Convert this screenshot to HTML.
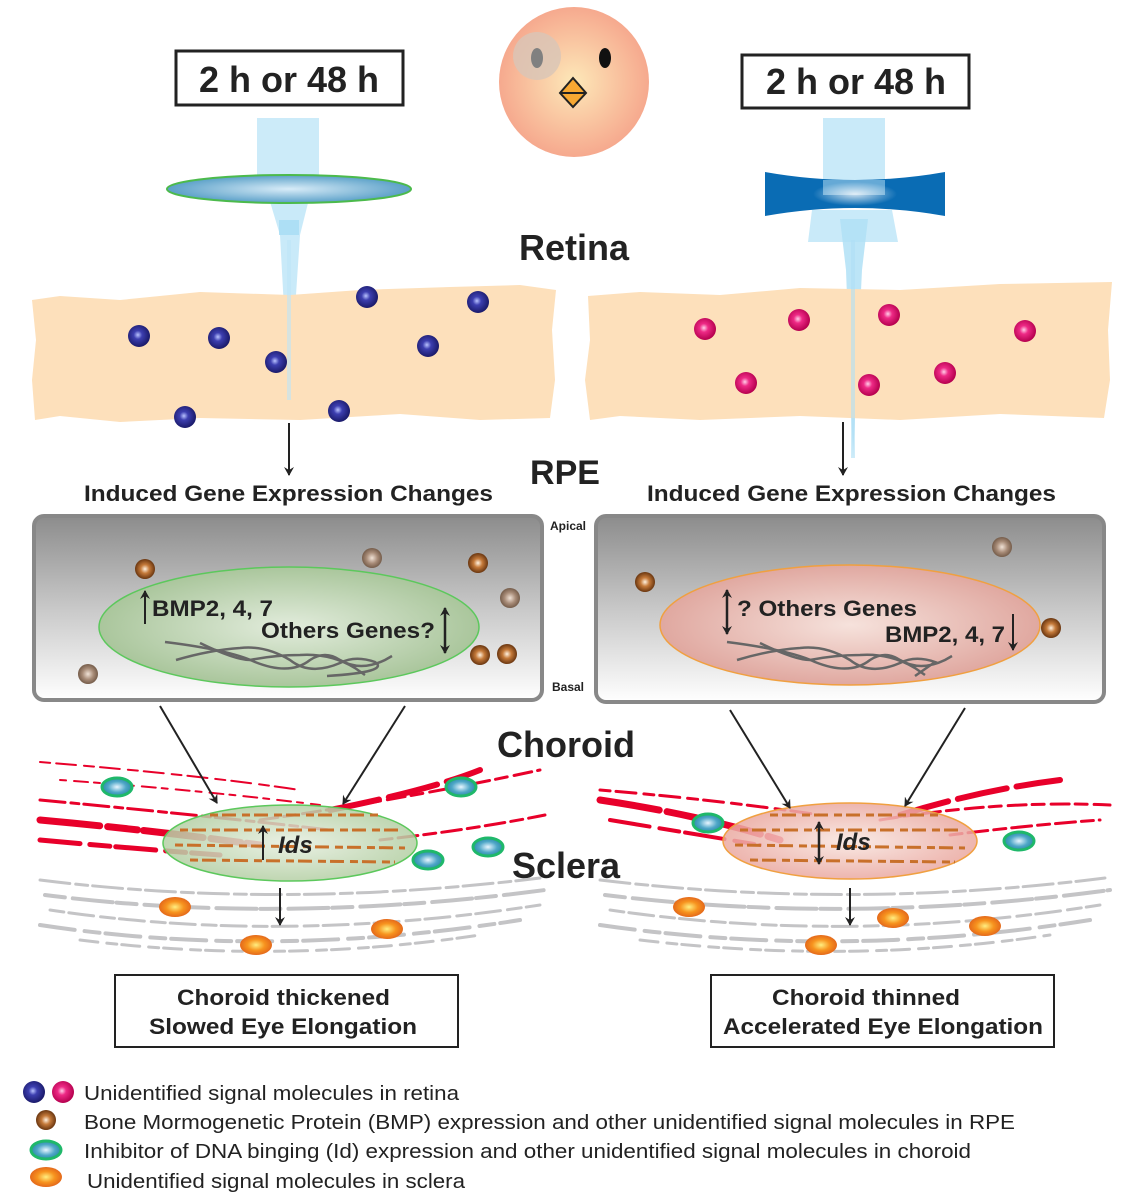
<!DOCTYPE html>
<html><head><meta charset="utf-8"><style>
html,body{margin:0;padding:0;background:#fff;}
svg{display:block;font-family:"Liberation Sans",sans-serif;}
</style></head><body>
<svg width="1141" height="1204" viewBox="0 0 1141 1204" xmlns="http://www.w3.org/2000/svg">
<defs>
<radialGradient id="chick" cx="0.5" cy="0.5" r="0.5"><stop offset="0" stop-color="#fde8b8"/><stop offset="1" stop-color="#f6a98e"/></radialGradient>
<radialGradient id="blue" cx="0.45" cy="0.45" r="0.55"><stop offset="0" stop-color="#b9c3ff"/><stop offset="0.35" stop-color="#3d3fb0"/><stop offset="1" stop-color="#1a1a6a"/></radialGradient>
<radialGradient id="pink" cx="0.45" cy="0.45" r="0.55"><stop offset="0" stop-color="#ffd0e8"/><stop offset="0.35" stop-color="#ee2a86"/><stop offset="1" stop-color="#b5004e"/></radialGradient>
<radialGradient id="brown" cx="0.5" cy="0.5" r="0.55"><stop offset="0" stop-color="#fff2e0"/><stop offset="0.4" stop-color="#c57a3a"/><stop offset="1" stop-color="#5a2a08"/></radialGradient>
<radialGradient id="brown2" cx="0.5" cy="0.5" r="0.55"><stop offset="0" stop-color="#f0e2d6"/><stop offset="0.5" stop-color="#a88c78"/><stop offset="1" stop-color="#6a5240"/></radialGradient>
<radialGradient id="teal" cx="0.5" cy="0.5" r="0.5"><stop offset="0" stop-color="#e8f6ff"/><stop offset="0.6" stop-color="#4fa7c8"/><stop offset="1" stop-color="#2d8aa8"/></radialGradient>
<radialGradient id="orange" cx="0.5" cy="0.5" r="0.55"><stop offset="0" stop-color="#ffee80"/><stop offset="0.5" stop-color="#f7931e"/><stop offset="1" stop-color="#e0601a"/></radialGradient>
<linearGradient id="rpe" x1="0" y1="0" x2="0" y2="1"><stop offset="0" stop-color="#8c8c8c"/><stop offset="0.5" stop-color="#c8c8c8"/><stop offset="1" stop-color="#ffffff"/></linearGradient>
<radialGradient id="gnuc" cx="0.5" cy="0.5" r="0.5"><stop offset="0" stop-color="#e2ecdc"/><stop offset="1" stop-color="#aac69c"/></radialGradient>
<radialGradient id="pnuc" cx="0.5" cy="0.5" r="0.5"><stop offset="0" stop-color="#f6e2dc"/><stop offset="1" stop-color="#e0a8a0"/></radialGradient>
<radialGradient id="gch" cx="0.5" cy="0.5" r="0.5"><stop offset="0" stop-color="#e6eedf" stop-opacity="0.85"/><stop offset="1" stop-color="#b4cfa4" stop-opacity="0.85"/></radialGradient>
<radialGradient id="pch" cx="0.5" cy="0.5" r="0.5"><stop offset="0" stop-color="#f8e6e0" stop-opacity="0.85"/><stop offset="1" stop-color="#eaa8a0" stop-opacity="0.85"/></radialGradient>
<radialGradient id="lens" cx="0.5" cy="0.5" r="0.5"><stop offset="0" stop-color="#d8ecf8"/><stop offset="1" stop-color="#5aa0c8"/></radialGradient>
<radialGradient id="glow" cx="0.5" cy="0.5" r="0.5"><stop offset="0" stop-color="#ffffff"/><stop offset="1" stop-color="#ffffff" stop-opacity="0"/></radialGradient>
<marker id="ah" markerWidth="10" markerHeight="10" refX="8" refY="5" orient="auto" markerUnits="userSpaceOnUse"><path d="M0,0 L9,5 L0,10 L3,5 z" fill="#222"/></marker>
<marker id="ahs" markerWidth="10" markerHeight="10" refX="8" refY="5" orient="auto-start-reverse" markerUnits="userSpaceOnUse"><path d="M0,0 L9,5 L0,10 L3,5 z" fill="#222"/></marker>
</defs>

<!-- time boxes -->
<rect x="176" y="51" width="227" height="54" fill="#fff" stroke="#222" stroke-width="3"/>
<text x="289" y="92" text-anchor="middle" font-size="36" font-weight="bold" fill="#222">2 h or 48 h</text>
<rect x="742" y="55" width="227" height="53" fill="#fff" stroke="#222" stroke-width="3"/>
<text x="856" y="94" text-anchor="middle" font-size="36" font-weight="bold" fill="#222">2 h or 48 h</text>

<!-- chick -->
<circle cx="574" cy="82" r="75" fill="url(#chick)"/>
<circle cx="537" cy="56" r="24" fill="#d8c6b8" opacity="0.8"/>
<ellipse cx="537" cy="58" rx="6" ry="10" fill="#808080"/>
<ellipse cx="605" cy="58" rx="6" ry="10" fill="#111"/>
<path d="M573,78 L586,93 L573,107 L560,93 Z" fill="#f8a832" stroke="#222" stroke-width="2"/>
<line x1="561" y1="93" x2="585" y2="93" stroke="#222" stroke-width="2"/>

<!-- left lens & beam -->
<rect x="257" y="118" width="62" height="62" fill="#bfe6f8" opacity="0.8"/>
<path d="M268,195 L310,195 L300,235 L289,400 L280,235 Z" fill="#bfe6f8" opacity="0.85"/>
<rect x="279" y="220" width="20" height="15" fill="#a6dcf4" opacity="0.8"/>
<ellipse cx="289" cy="189" rx="122" ry="14" fill="url(#lens)" stroke="#4cba4c" stroke-width="2"/>

<!-- right lens & beam -->
<rect x="823" y="118" width="62" height="78" fill="#bfe6f8" opacity="0.85"/>
<path d="M812,210 L892,210 L898,242 L808,242 Z" fill="#bfe6f8" opacity="0.85"/>
<path d="M765,172 Q855,188 945,172 L945,216 Q855,200 765,216 Z" fill="#0a6cb4"/>
<rect x="823" y="180" width="62" height="15" fill="#bfe6f8" opacity="0.5"/>
<ellipse cx="855" cy="194" rx="42" ry="12" fill="url(#glow)" opacity="0.8"/>
<path d="M840,219 L868,219 L862,270 L853,458 L846,270 Z" fill="#b0e0f6" opacity="0.85"/>

<text x="574" y="260" text-anchor="middle" font-size="36" font-weight="bold" fill="#222">Retina</text>

<!-- retina bands -->
<path d="M32,300 L60,296 L120,300 L200,292 L290,295 L360,290 L450,287 L520,285 L556,290 L552,330 L555,380 L550,418 L480,420 L400,414 L300,420 L200,418 L120,422 L60,416 L35,420 L32,380 L36,340 Z" fill="#fde0bb"/>
<path d="M588,296 L640,292 L720,295 L800,288 L900,290 L1000,284 L1112,282 L1108,330 L1110,380 L1104,418 L1000,414 L900,420 L800,416 L700,420 L620,416 L590,420 L585,380 L590,340 Z" fill="#fde0bb"/>
<path d="M289,240 L289,400" stroke="#bfe6f8" stroke-width="4" opacity="0.6"/>
<path d="M853,240 L853,458" stroke="#b0e0f6" stroke-width="4" opacity="0.6"/>

<g>
<circle cx="139" cy="336" r="11" fill="url(#blue)"/><circle cx="219" cy="338" r="11" fill="url(#blue)"/>
<circle cx="276" cy="362" r="11" fill="url(#blue)"/><circle cx="367" cy="297" r="11" fill="url(#blue)"/>
<circle cx="478" cy="302" r="11" fill="url(#blue)"/><circle cx="428" cy="346" r="11" fill="url(#blue)"/>
<circle cx="185" cy="417" r="11" fill="url(#blue)"/><circle cx="339" cy="411" r="11" fill="url(#blue)"/>
<circle cx="705" cy="329" r="11" fill="url(#pink)"/><circle cx="799" cy="320" r="11" fill="url(#pink)"/>
<circle cx="889" cy="315" r="11" fill="url(#pink)"/><circle cx="1025" cy="331" r="11" fill="url(#pink)"/>
<circle cx="746" cy="383" r="11" fill="url(#pink)"/><circle cx="869" cy="385" r="11" fill="url(#pink)"/>
<circle cx="945" cy="373" r="11" fill="url(#pink)"/>
</g>

<line x1="289" y1="423" x2="289" y2="475" stroke="#222" stroke-width="2" marker-end="url(#ah)"/>
<line x1="843" y1="422" x2="843" y2="475" stroke="#222" stroke-width="2" marker-end="url(#ah)"/>

<text x="565" y="484" text-anchor="middle" font-size="34" font-weight="bold" fill="#222">RPE</text>
<text x="84" y="501" font-size="22" font-weight="bold" fill="#222" textLength="409" lengthAdjust="spacingAndGlyphs">Induced Gene Expression Changes</text>
<text x="647" y="501" font-size="22" font-weight="bold" fill="#222" textLength="409" lengthAdjust="spacingAndGlyphs">Induced Gene Expression Changes</text>

<!-- RPE boxes -->
<rect x="34" y="516" width="508" height="184" rx="10" fill="url(#rpe)" stroke="#888" stroke-width="4"/>
<rect x="596" y="516" width="508" height="186" rx="10" fill="url(#rpe)" stroke="#888" stroke-width="4"/>
<text x="568" y="530" text-anchor="middle" font-size="12" font-weight="bold" fill="#222">Apical</text>
<text x="568" y="691" text-anchor="middle" font-size="12" font-weight="bold" fill="#222">Basal</text>

<ellipse cx="289" cy="627" rx="190" ry="60" fill="url(#gnuc)" stroke="#5cc85c" stroke-width="1.5"/>
<ellipse cx="850" cy="625" rx="190" ry="60" fill="url(#pnuc)" stroke="#f0a040" stroke-width="1.5"/>

<!-- DNA -->
<g fill="none" stroke="#666" stroke-width="2.5">
<path d="M165,642 Q230,650 255,662 Q290,676 310,660 Q325,650 340,660 Q360,672 385,660 L392,656"/>
<path d="M176,660 Q210,650 240,648 Q265,645 290,660 Q310,676 340,663 Q355,655 375,662 Q390,672 327,676"/>
<path d="M200,643 Q235,660 250,660 Q275,655 300,655 Q330,653 355,668 L365,675"/>
<path d="M727,642 Q790,650 815,662 Q850,676 870,660 Q885,650 900,660 Q920,672 945,660 L952,656"/>
<path d="M737,660 Q770,650 800,648 Q825,645 850,660 Q870,676 900,663 Q915,655 935,662 L915,676"/>
<path d="M760,643 Q795,660 810,660 Q835,655 860,655 Q890,653 915,668 L925,675"/>
</g>

<text x="152" y="616" font-size="22" font-weight="bold" fill="#222" textLength="121" lengthAdjust="spacingAndGlyphs">BMP2, 4, 7</text>
<line x1="145" y1="624" x2="145" y2="591" stroke="#222" stroke-width="2" marker-end="url(#ah)"/>
<text x="261" y="638" font-size="22" font-weight="bold" fill="#222" textLength="174" lengthAdjust="spacingAndGlyphs">Others Genes?</text>
<line x1="445" y1="608" x2="445" y2="653" stroke="#222" stroke-width="2.5" marker-start="url(#ahs)" marker-end="url(#ahs)"/>

<text x="737" y="616" font-size="22" font-weight="bold" fill="#222" textLength="180" lengthAdjust="spacingAndGlyphs">? Others Genes</text>
<line x1="727" y1="590" x2="727" y2="634" stroke="#222" stroke-width="2.5" marker-start="url(#ahs)" marker-end="url(#ahs)"/>
<text x="885" y="642" font-size="22" font-weight="bold" fill="#222" textLength="120" lengthAdjust="spacingAndGlyphs">BMP2, 4, 7</text>
<line x1="1013" y1="614" x2="1013" y2="650" stroke="#222" stroke-width="2" marker-end="url(#ah)"/>

<g>
<circle cx="145" cy="569" r="10" fill="url(#brown)"/><circle cx="372" cy="558" r="10" fill="url(#brown2)"/>
<circle cx="478" cy="563" r="10" fill="url(#brown)"/><circle cx="510" cy="598" r="10" fill="url(#brown2)"/>
<circle cx="480" cy="655" r="10" fill="url(#brown)"/><circle cx="507" cy="654" r="10" fill="url(#brown)"/>
<circle cx="88" cy="674" r="10" fill="url(#brown2)"/>
<circle cx="645" cy="582" r="10" fill="url(#brown)"/><circle cx="1002" cy="547" r="10" fill="url(#brown2)"/>
<circle cx="1051" cy="628" r="10" fill="url(#brown)"/>
</g>

<text x="566" y="757" text-anchor="middle" font-size="36" font-weight="bold" fill="#222">Choroid</text>
<text x="566" y="878" text-anchor="middle" font-size="36" font-weight="bold" fill="#222">Sclera</text>

<!-- sclera gray streaks -->
<g stroke="#c4c4c6" fill="none" stroke-linecap="round">
<path d="M40,880 Q280,910 540,878" stroke-width="3" stroke-dasharray="30 6 12 5"/>
<path d="M45,895 Q280,925 545,890" stroke-width="4" stroke-dasharray="20 8 40 4"/>
<path d="M50,910 Q280,945 540,905" stroke-width="3" stroke-dasharray="14 5 25 7"/>
<path d="M40,925 Q270,960 520,920" stroke-width="4" stroke-dasharray="35 10 15 6"/>
<path d="M80,940 Q280,965 480,935" stroke-width="3" stroke-dasharray="18 9 10 5"/>
<path d="M600,880 Q850,910 1105,878" stroke-width="3" stroke-dasharray="30 6 12 5"/>
<path d="M605,895 Q850,925 1110,890" stroke-width="4" stroke-dasharray="20 8 40 4"/>
<path d="M610,910 Q850,945 1100,905" stroke-width="3" stroke-dasharray="14 5 25 7"/>
<path d="M600,925 Q840,960 1090,920" stroke-width="4" stroke-dasharray="35 10 15 6"/>
<path d="M640,940 Q850,965 1050,935" stroke-width="3" stroke-dasharray="18 9 10 5"/>
</g>
<!-- choroid red streaks -->
<g stroke="#e8002a" fill="none" stroke-linecap="round">
<path d="M40,762 Q200,775 300,790" stroke-width="2" stroke-dasharray="10 6 20 8"/>
<path d="M60,780 Q200,790 320,805" stroke-width="2" stroke-dasharray="6 8 14 6"/>
<path d="M40,800 Q200,815 330,830" stroke-width="3" stroke-dasharray="25 6 8 5"/>
<path d="M40,820 Q150,830 260,845" stroke-width="7" stroke-dasharray="60 8 30 6"/>
<path d="M40,840 Q150,850 220,855" stroke-width="5" stroke-dasharray="40 10 20 6"/>
<path d="M260,820 Q400,800 540,770" stroke-width="3" stroke-dasharray="18 6 12 7"/>
<path d="M330,810 Q430,790 480,770" stroke-width="6" stroke-dasharray="50 10"/>
<path d="M380,840 Q470,830 545,815" stroke-width="3" stroke-dasharray="12 6 20 6"/>
<path d="M600,790 Q720,800 820,815" stroke-width="3" stroke-dasharray="10 6 20 8"/>
<path d="M600,800 Q700,815 780,840" stroke-width="7" stroke-dasharray="60 8 30 6"/>
<path d="M610,820 Q700,835 760,845" stroke-width="4" stroke-dasharray="40 10 20 6"/>
<path d="M880,820 Q1000,800 1110,805" stroke-width="3" stroke-dasharray="18 6 12 7"/>
<path d="M900,815 Q980,790 1060,780" stroke-width="6" stroke-dasharray="50 10"/>
<path d="M950,835 Q1030,825 1100,820" stroke-width="3" stroke-dasharray="12 6 20 6"/>
</g>

<ellipse cx="290" cy="843" rx="127" ry="38" fill="url(#gch)" stroke="#5cc85c" stroke-width="1.5"/>
<ellipse cx="850" cy="841" rx="127" ry="38" fill="url(#pch)" stroke="#f0a040" stroke-width="1.5"/>
<g stroke="#c8702a" stroke-width="3" stroke-dasharray="8 4 14 6" fill="none">
<path d="M180,830 L400,830"/><path d="M175,845 L405,848"/><path d="M190,860 L395,862"/><path d="M210,815 L380,815"/>
<path d="M740,830 L960,830"/><path d="M735,845 L965,848"/><path d="M750,860 L955,862"/><path d="M770,815 L940,815"/>
</g>

<line x1="263" y1="860" x2="263" y2="826" stroke="#222" stroke-width="2" marker-end="url(#ah)"/>
<text x="278" y="853" font-size="24" font-weight="bold" font-style="italic" fill="#222">Ids</text>
<line x1="819" y1="822" x2="819" y2="864" stroke="#222" stroke-width="2.5" marker-start="url(#ahs)" marker-end="url(#ahs)"/>
<text x="836" y="850" font-size="24" font-weight="bold" font-style="italic" fill="#222">Ids</text>

<!-- arrows -->
<g stroke="#222" stroke-width="2" marker-end="url(#ah)">
<line x1="160" y1="706" x2="217" y2="803"/><line x1="405" y1="706" x2="343" y2="804"/>
<line x1="730" y1="710" x2="790" y2="808"/><line x1="965" y1="708" x2="905" y2="806"/>
<line x1="280" y1="888" x2="280" y2="925"/><line x1="850" y1="888" x2="850" y2="925"/>
</g>

<g stroke="#1fb86a" stroke-width="3">
<ellipse cx="117" cy="787" rx="15" ry="9" fill="url(#teal)"/><ellipse cx="461" cy="787" rx="15" ry="9" fill="url(#teal)"/>
<ellipse cx="428" cy="860" rx="15" ry="9" fill="url(#teal)"/><ellipse cx="488" cy="847" rx="15" ry="9" fill="url(#teal)"/>
<ellipse cx="708" cy="823" rx="15" ry="9" fill="url(#teal)"/><ellipse cx="1019" cy="841" rx="15" ry="9" fill="url(#teal)"/>
</g>
<g>
<ellipse cx="175" cy="907" rx="16" ry="10" fill="url(#orange)"/><ellipse cx="256" cy="945" rx="16" ry="10" fill="url(#orange)"/>
<ellipse cx="387" cy="929" rx="16" ry="10" fill="url(#orange)"/>
<ellipse cx="689" cy="907" rx="16" ry="10" fill="url(#orange)"/><ellipse cx="821" cy="945" rx="16" ry="10" fill="url(#orange)"/>
<ellipse cx="893" cy="918" rx="16" ry="10" fill="url(#orange)"/><ellipse cx="985" cy="926" rx="16" ry="10" fill="url(#orange)"/>
</g>

<!-- outcome boxes -->
<rect x="115" y="975" width="343" height="72" fill="#fff" stroke="#222" stroke-width="2"/>
<text x="177" y="1005" font-size="22" font-weight="bold" fill="#222" textLength="213" lengthAdjust="spacingAndGlyphs">Choroid thickened</text>
<text x="149" y="1034" font-size="22" font-weight="bold" fill="#222" textLength="268" lengthAdjust="spacingAndGlyphs">Slowed Eye Elongation</text>
<rect x="711" y="975" width="343" height="72" fill="#fff" stroke="#222" stroke-width="2"/>
<text x="772" y="1005" font-size="22" font-weight="bold" fill="#222" textLength="188" lengthAdjust="spacingAndGlyphs">Choroid thinned</text>
<text x="723" y="1034" font-size="22" font-weight="bold" fill="#222" textLength="320" lengthAdjust="spacingAndGlyphs">Accelerated Eye Elongation</text>

<!-- legend -->
<circle cx="34" cy="1092" r="11" fill="url(#blue)"/><circle cx="63" cy="1092" r="11" fill="url(#pink)"/>
<text x="84" y="1100" font-size="20" fill="#222" textLength="375" lengthAdjust="spacingAndGlyphs">Unidentified signal molecules in retina</text>
<circle cx="46" cy="1120" r="10" fill="url(#brown)"/>
<text x="84" y="1129" font-size="20" fill="#222" textLength="931" lengthAdjust="spacingAndGlyphs">Bone Mormogenetic Protein (BMP) expression and other unidentified signal molecules in RPE</text>
<ellipse cx="46" cy="1150" rx="15" ry="9" fill="url(#teal)" stroke="#1fb86a" stroke-width="3"/>
<text x="84" y="1158" font-size="20" fill="#222" textLength="887" lengthAdjust="spacingAndGlyphs">Inhibitor of DNA binging (Id) expression and other unidentified signal molecules in choroid</text>
<ellipse cx="46" cy="1177" rx="16" ry="10" fill="url(#orange)"/>
<text x="87" y="1188" font-size="20" fill="#222" textLength="378" lengthAdjust="spacingAndGlyphs">Unidentified signal molecules in sclera</text>
</svg>
</body></html>
